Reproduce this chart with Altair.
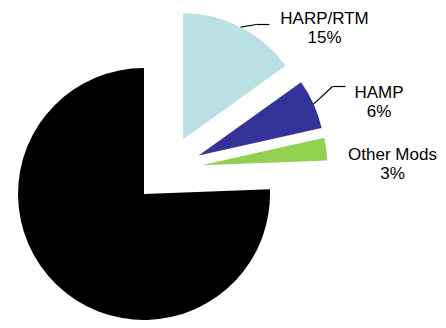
import altair as alt
import pandas as pd

# ---- data ----
categories = ["HARP/RTM", "HAMP", "Other Mods", "Remaining"]
shares = [15.1, 6.4, 2.9, 75.6]
show_label = [True, True, True, False]

# ---- style / layout (not data) ----
colors = ["#BBE0E3", "#333399", "#92D050", "#000000"]
CX, CY = 159.6, 161.5      # pie centre (chart px)
R = 126                    # radius
EXPLODE = 34               # explode distance
FONT = "Liberation Sans"
FS = 17
LINE_GAP = 19
# label layout per category: text centre x, first-line baseline y, elbow x/y, line end x
label_layout = {
    "HARP/RTM": dict(tx=316.5, ty=16.0, ex=248.5, ey=16.5, endx=261.3, leader=True),
    "HAMP": dict(tx=371.0, ty=89.5, ex=324.5, ey=78.5, endx=337.5, leader=True),
    "Other Mods": dict(tx=384.5, ty=151.5, ex=0, ey=0, endx=0, leader=False),
}

df = pd.DataFrame({"category": categories, "share": shares,
                   "order": list(range(len(categories))), "show": show_label})

lay = pd.DataFrame([dict(category=k, **v) for k, v in label_layout.items()])
df = df.merge(lay, on="category", how="left")

base = (
    alt.Chart(df)
    .transform_joinaggregate(total="sum(share)")
    .transform_window(cum="sum(share)", sort=[alt.SortField("order")], frame=[None, 0])
    .transform_calculate(end="datum.cum / datum.total * 2 * PI")
    .transform_calculate(start="(datum.cum - datum.share) / datum.total * 2 * PI")
    .transform_calculate(mid="(datum.start + datum.end) / 2")
    .transform_calculate(cx=f"{CX} + {EXPLODE} * sin(datum.mid)")
    .transform_calculate(cy=f"{CY} - {EXPLODE} * cos(datum.mid)")
    .transform_calculate(ax=f"datum.cx + {R} * sin(datum.mid)")
    .transform_calculate(ay=f"datum.cy - {R} * cos(datum.mid)")
    .transform_calculate(pct="format(datum.share / datum.total, '.0%')")
    .transform_calculate(ty2=f"datum.ty + {LINE_GAP}")
)

arcs = base.mark_arc(radius=R).encode(
    theta=alt.Theta("start:Q", scale=None, stack=False),
    theta2="end:Q",
    x=alt.X("cx:Q", scale=None, axis=None),
    y=alt.Y("cy:Q", scale=None, axis=None),
    color=alt.Color("category:N", scale=alt.Scale(domain=categories, range=colors), legend=None),
)

lead = base.transform_filter("datum.leader == true")
lead1 = lead.mark_rule(color="black", strokeWidth=1.2).encode(
    x=alt.X("ax:Q", scale=None, axis=None), y=alt.Y("ay:Q", scale=None, axis=None),
    x2="ex:Q", y2="ey:Q",
)
lead2 = lead.mark_rule(color="black", strokeWidth=1.2).encode(
    x=alt.X("ex:Q", scale=None, axis=None), y=alt.Y("ey:Q", scale=None, axis=None),
    x2="endx:Q", y2="ey:Q",
)

lab = base.transform_filter("datum.show == true")
name_txt = lab.mark_text(font=FONT, fontSize=FS, color="black", align="center", baseline="alphabetic").encode(
    x=alt.X("tx:Q", scale=None, axis=None), y=alt.Y("ty:Q", scale=None, axis=None), text="category:N",
)
pct_txt = lab.mark_text(font=FONT, fontSize=FS, color="black", align="center", baseline="alphabetic").encode(
    x=alt.X("tx:Q", scale=None, axis=None), y=alt.Y("ty2:Q", scale=None, axis=None), text="pct:N",
)

chart = (
    alt.layer(arcs, lead1, lead2, name_txt, pct_txt)
    .properties(width=430, height=312, padding=0, autosize=alt.AutoSizeParams(type="none"))
    .configure(background="white")
    .configure_view(stroke=None)
)

chart.save("out.html", embed_options={"renderer": "svg", "actions": False})
